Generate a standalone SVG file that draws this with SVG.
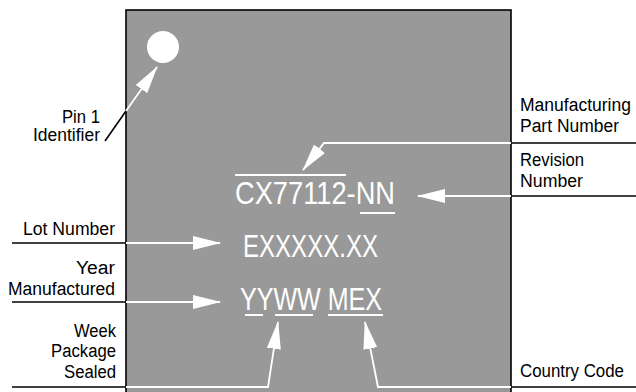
<svg xmlns="http://www.w3.org/2000/svg" width="636" height="392" viewBox="0 0 636 392">
<style>
.lbl{font-family:"Liberation Sans Narrow","Liberation Sans",Arial,sans-serif;font-size:18px;fill:#000}
.big{font-family:"Liberation Sans Narrow","Liberation Sans",Arial,sans-serif;font-size:31px;fill:#fff}
.bl{stroke:#000;stroke-width:1.6;fill:none}
.wl{stroke:#fff;stroke-width:1.8;fill:none}
.ul{stroke:#fff;stroke-width:2;fill:none}
</style>
<defs>
<marker id="ah" viewBox="0 -7 28 14" refX="27" refY="0" markerWidth="28" markerHeight="14" markerUnits="userSpaceOnUse" orient="auto">
<path d="M0,-7 L28,0 L0,7 z" fill="#fff"/>
</marker>
</defs>
<g id="chip">
<rect x="126" y="10" width="385" height="390" fill="#999999" stroke="#000" stroke-width="1.6"/>
</g>
<g id="pin1-dot"><circle cx="163" cy="47" r="16" fill="#fff"/></g>
<g id="marking">
<line class="ul" x1="235" y1="175" x2="346" y2="175"/>
<text class="big" x="235" y="204" textLength="160" lengthAdjust="spacingAndGlyphs">CX77112-NN</text>
<line class="ul" x1="360" y1="213" x2="395" y2="213"/>
<text class="big" x="243" y="257" textLength="135" lengthAdjust="spacingAndGlyphs">EXXXXX.XX</text>
<text class="big" x="240" y="310" textLength="142" lengthAdjust="spacingAndGlyphs">YYWW MEX</text>
<line class="ul" x1="245" y1="315" x2="263" y2="315"/>
<line class="ul" x1="275" y1="315" x2="313" y2="315"/>
<line class="ul" x1="328" y1="315" x2="383" y2="315"/>
</g>
<g id="label-pin1">
<text class="lbl" x="100" y="123" text-anchor="end" textLength="38" lengthAdjust="spacingAndGlyphs">Pin 1</text>
<text class="lbl" x="100" y="141" text-anchor="end" textLength="67" lengthAdjust="spacingAndGlyphs">Identifier</text>
</g>
<g id="label-mpn">
<text class="lbl" x="520" y="111" textLength="111" lengthAdjust="spacingAndGlyphs">Manufacturing</text>
<text class="lbl" x="520" y="132" textLength="99" lengthAdjust="spacingAndGlyphs">Part Number</text>
</g>
<g id="label-rev">
<text class="lbl" x="520" y="166" textLength="64" lengthAdjust="spacingAndGlyphs">Revision</text>
<text class="lbl" x="520" y="187" textLength="63" lengthAdjust="spacingAndGlyphs">Number</text>
</g>
<g id="label-lot">
<text class="lbl" x="115" y="235" text-anchor="end" textLength="92" lengthAdjust="spacingAndGlyphs">Lot Number</text>
</g>
<g id="label-year">
<text class="lbl" x="115" y="274" text-anchor="end" textLength="39" lengthAdjust="spacingAndGlyphs">Year</text>
<text class="lbl" x="115" y="295" text-anchor="end" textLength="107" lengthAdjust="spacingAndGlyphs">Manufactured</text>
</g>
<g id="label-week">
<text class="lbl" x="116" y="337" text-anchor="end" textLength="42" lengthAdjust="spacingAndGlyphs">Week</text>
<text class="lbl" x="116" y="357" text-anchor="end" textLength="65" lengthAdjust="spacingAndGlyphs">Package</text>
<text class="lbl" x="116" y="378" text-anchor="end" textLength="52" lengthAdjust="spacingAndGlyphs">Sealed</text>
</g>
<g id="label-country">
<text class="lbl" x="520" y="377" textLength="104" lengthAdjust="spacingAndGlyphs">Country Code</text>
</g>
<g id="connectors">
<line class="bl" x1="105" y1="141" x2="126" y2="111"/>
<line class="wl" x1="126" y1="111" x2="157" y2="67" marker-end="url(#ah)"/>
<line class="bl" x1="511" y1="143" x2="636" y2="143"/>
<polyline class="wl" points="511,143 324,143 303,170" marker-end="url(#ah)"/>
<line class="bl" x1="511" y1="196" x2="636" y2="196"/>
<line class="wl" x1="511" y1="196" x2="418" y2="196" marker-end="url(#ah)"/>
<line class="bl" x1="12" y1="243" x2="126" y2="243"/>
<line class="wl" x1="126" y1="243" x2="220" y2="243" marker-end="url(#ah)"/>
<line class="bl" x1="12" y1="302" x2="126" y2="302"/>
<line class="wl" x1="126" y1="302" x2="220" y2="302" marker-end="url(#ah)"/>
<line class="bl" x1="12" y1="387" x2="126" y2="387"/>
<polyline class="wl" points="126,387 268,387 278,322" marker-end="url(#ah)"/>
<line class="bl" x1="511" y1="387" x2="636" y2="387"/>
<polyline class="wl" points="511,387 378,387 365,322" marker-end="url(#ah)"/>
</g>
</svg>
